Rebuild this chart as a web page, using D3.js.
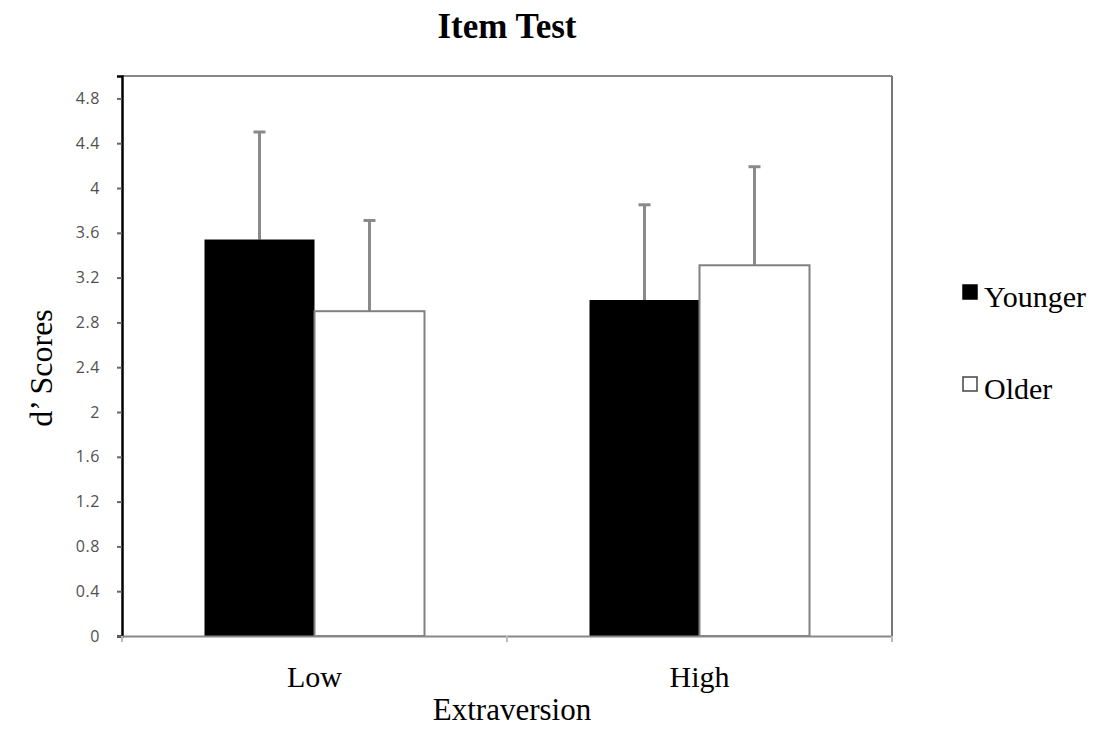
<!DOCTYPE html>
<html>
<head>
<meta charset="utf-8">
<script src="https://cdn.jsdelivr.net/npm/d3@7"></script>
<style>
  body { margin: 0; background: #fff; }
  svg text { fill: #000; }
  .serif { font-family: 'Liberation Serif', 'Times New Roman', serif; }
</style>
</head>
<body>
<svg id="chart" width="1104" height="729"></svg>
<script>
'use strict';

// chart data
var categories = ['Low', 'High'];
var series = ['Younger', 'Older'];
var younger = [3.54, 3.00];
var older = [2.90, 3.31];
var youngerErr = [0.96, 0.85];
var olderErr = [0.81, 0.88];
var yTicks = [0, 0.4, 0.8, 1.2, 1.6, 2, 2.4, 2.8, 3.2, 3.6, 4, 4.4, 4.8];

var svg = d3.select('#chart');
var plotLeft = 122, plotRight = 892, plotTop = 76, plotBottom = 636;

var x = d3.scaleBand().domain(categories).range([plotLeft, plotRight]);
var xs = d3.scaleBand().domain(series).range([0, 220]);
var y = d3.scaleLinear().domain([0, 5]).range([plotBottom, plotTop]);

var rows = [];
categories.forEach(function (c, i) {
  rows.push({ cat: c, ser: 'Younger', v: younger[i], e: youngerErr[i] });
  rows.push({ cat: c, ser: 'Older', v: older[i], e: olderErr[i] });
});

function barX(d) {
  return x(d.cat) + (x.bandwidth() - 220) / 2 + xs(d.ser);
}

// frame: top and right gray lines
svg.append('line').attr('x1', plotLeft).attr('x2', plotRight).attr('y1', plotTop).attr('y2', plotTop)
  .attr('stroke', '#888').attr('stroke-width', 2);
svg.append('line').attr('x1', plotRight).attr('x2', plotRight).attr('y1', plotTop).attr('y2', plotBottom)
  .attr('stroke', '#777').attr('stroke-width', 2);

// error bars (drawn first so bars cover the lower part)
var err = svg.append('g');
rows.forEach(function (d) {
  var cx = barX(d) + xs.bandwidth() / 2;
  err.append('line').attr('x1', cx).attr('x2', cx)
    .attr('y1', y(d.v)).attr('y2', y(d.v + d.e))
    .attr('stroke', '#8a8a8a').attr('stroke-width', 3);
  err.append('line').attr('x1', cx - 6).attr('x2', cx + 6)
    .attr('y1', y(d.v + d.e)).attr('y2', y(d.v + d.e))
    .attr('stroke', '#8a8a8a').attr('stroke-width', 3);
});

// bars
svg.append('g').selectAll('rect').data(rows).enter().append('rect')
  .attr('x', barX)
  .attr('y', function (d) { return y(d.v); })
  .attr('width', xs.bandwidth())
  .attr('height', function (d) { return y(0) - y(d.v); })
  .attr('fill', function (d) { return d.ser === 'Younger' ? '#000' : '#fff'; })
  .attr('stroke', function (d) { return d.ser === 'Younger' ? 'none' : '#808080'; })
  .attr('stroke-width', 2);

// y axis
var yAxis = svg.append('g').attr('transform', 'translate(' + plotLeft + ',0)')
  .call(d3.axisLeft(y).tickValues(yTicks).tickSize(5).tickPadding(17).tickFormat(d3.format('')));
yAxis.select('.domain').attr('stroke', '#000').attr('stroke-width', 2.5);
yAxis.selectAll('.tick line').attr('stroke', '#666').attr('stroke-width', 2);
yAxis.selectAll('.tick text')
  .style('font-family', "'Open Sans', sans-serif").style('font-size', '16px')
  .style('letter-spacing', '0.6px').style('fill', '#505050');

// x axis
var xAxis = svg.append('g').attr('transform', 'translate(0,' + plotBottom + ')')
  .call(d3.axisBottom(x).tickValues([]).tickSizeOuter(0));
xAxis.select('.domain').attr('stroke', '#888').attr('stroke-width', 2);
xAxis.append('g').selectAll('line').data([plotLeft, (plotLeft + plotRight) / 2, plotRight]).enter().append('line')
  .attr('x1', function (d) { return d; }).attr('x2', function (d) { return d; })
  .attr('y1', 0).attr('y2', 6).attr('stroke', '#bbb').attr('stroke-width', 2);
svg.append('g').selectAll('text').data(categories).enter().append('text')
  .attr('class', 'serif')
  .attr('x', function (d) { return x(d) + x.bandwidth() / 2; })
  .attr('y', 687).attr('text-anchor', 'middle')
  .style('font-size', '30px')
  .text(function (d) { return d; });

// labels
svg.append('text').attr('class', 'serif').attr('x', 507).attr('y', 38).attr('text-anchor', 'middle')
  .style('font-weight', 'bold').style('font-size', '35px')
  .text('Item Test');
svg.append('text').attr('class', 'serif').attr('x', 512).attr('y', 720).attr('text-anchor', 'middle')
  .style('font-size', '31px')
  .text('Extraversion');
svg.append('text').attr('class', 'serif').attr('transform', 'translate(52,368) rotate(-90)').attr('text-anchor', 'middle')
  .style('font-size', '32px')
  .text('d\u2019 Scores');

// legend
var legend = svg.append('g').selectAll('g').data(series).enter().append('g')
  .attr('transform', function (d, i) { return 'translate(963,' + (285 + i * 92) + ')'; });
legend.append('rect').attr('width', 14).attr('height', 14)
  .attr('fill', function (d) { return d === 'Younger' ? '#000' : '#fff'; })
  .attr('stroke', function (d) { return d === 'Younger' ? '#000' : '#444'; })
  .attr('stroke-width', 1.5);
legend.append('text').attr('class', 'serif').attr('x', 21).attr('y', 22)
  .style('font-size', '30px')
  .text(function (d) { return d; });
</script>
</body>
</html>
